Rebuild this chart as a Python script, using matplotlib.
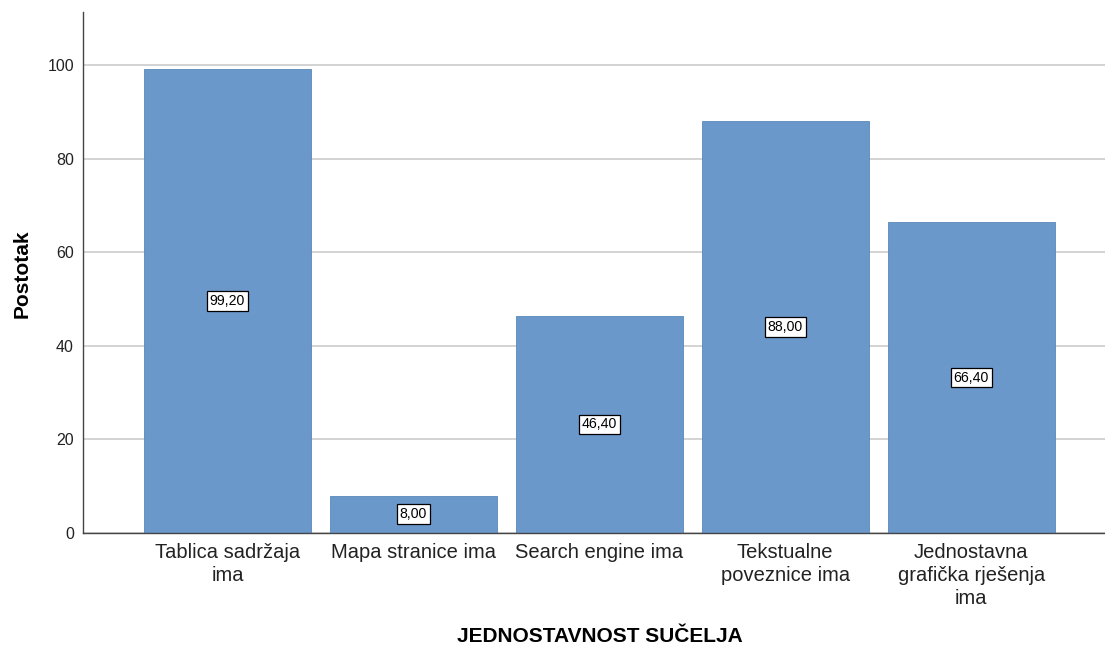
import matplotlib
matplotlib.use("Agg")
import matplotlib.pyplot as plt

categories = ["Tablica sadržaja\nima", "Mapa stranice ima", "Search engine ima",
              "Tekstualne\npoveznice ima", "Jednostavna\ngrafička rješenja\nima"]
values = [99.20, 8.00, 46.40, 88.00, 66.40]
yticks = [0, 20, 40, 60, 80, 100]

plt.rcParams['font.family'] = ['Liberation Sans', 'DejaVu Sans']

fig = plt.figure(figsize=(11.05, 6.51), dpi=100)
ax = fig.add_axes([83/1105, 118/651, 1 - 83/1105, (533-12)/651])

x = list(range(len(categories)))
ax.bar(x, values, width=0.898, color="#6b98cb", edgecolor="#5a87ba", linewidth=0.6, zorder=2)

for xi, v in zip(x, values):
    ax.text(xi, v/2, f"{v:.2f}".replace(".", ","), ha="center", va="center",
            fontsize=10.2, color="black", zorder=3,
            bbox=dict(boxstyle="square,pad=0.2", facecolor="white", edgecolor="black", linewidth=0.9))

ax.set_xlim(-0.777, 4.72)
ax.set_ylim(0, 111.3)
ax.set_yticks(yticks)
ax.set_yticklabels([str(t) for t in yticks], fontsize=11.5, color="#222222")
ax.set_xticks(x)
ax.set_xticklabels(categories, fontsize=14.5, color="#222222", linespacing=1.27)
ax.tick_params(axis="both", length=0)
ax.tick_params(axis="y", pad=6.5)
ax.tick_params(axis="x", pad=7)
ax.yaxis.grid(True, color="#cccccc", linewidth=1.2, zorder=0)
ax.set_axisbelow(True)
for s in ["top", "right"]:
    ax.spines[s].set_visible(False)
for s in ["left", "bottom"]:
    ax.spines[s].set_color("#444444")
    ax.spines[s].set_linewidth(1.0)

ax.set_ylabel("Postotak", fontsize=15, fontweight="bold")
ax.yaxis.set_label_coords(-(83-22)/1022, (533-274)/521)
ax.set_xlabel("JEDNOSTAVNOST SUČELJA", fontsize=15, fontweight="bold")
ax.xaxis.set_label_coords((600-83)/1022, -(637-533)/521)
ax.xaxis.label.set_va("center")
ax.yaxis.label.set_va("center")

fig.savefig("out.png", dpi=100, facecolor="white")
